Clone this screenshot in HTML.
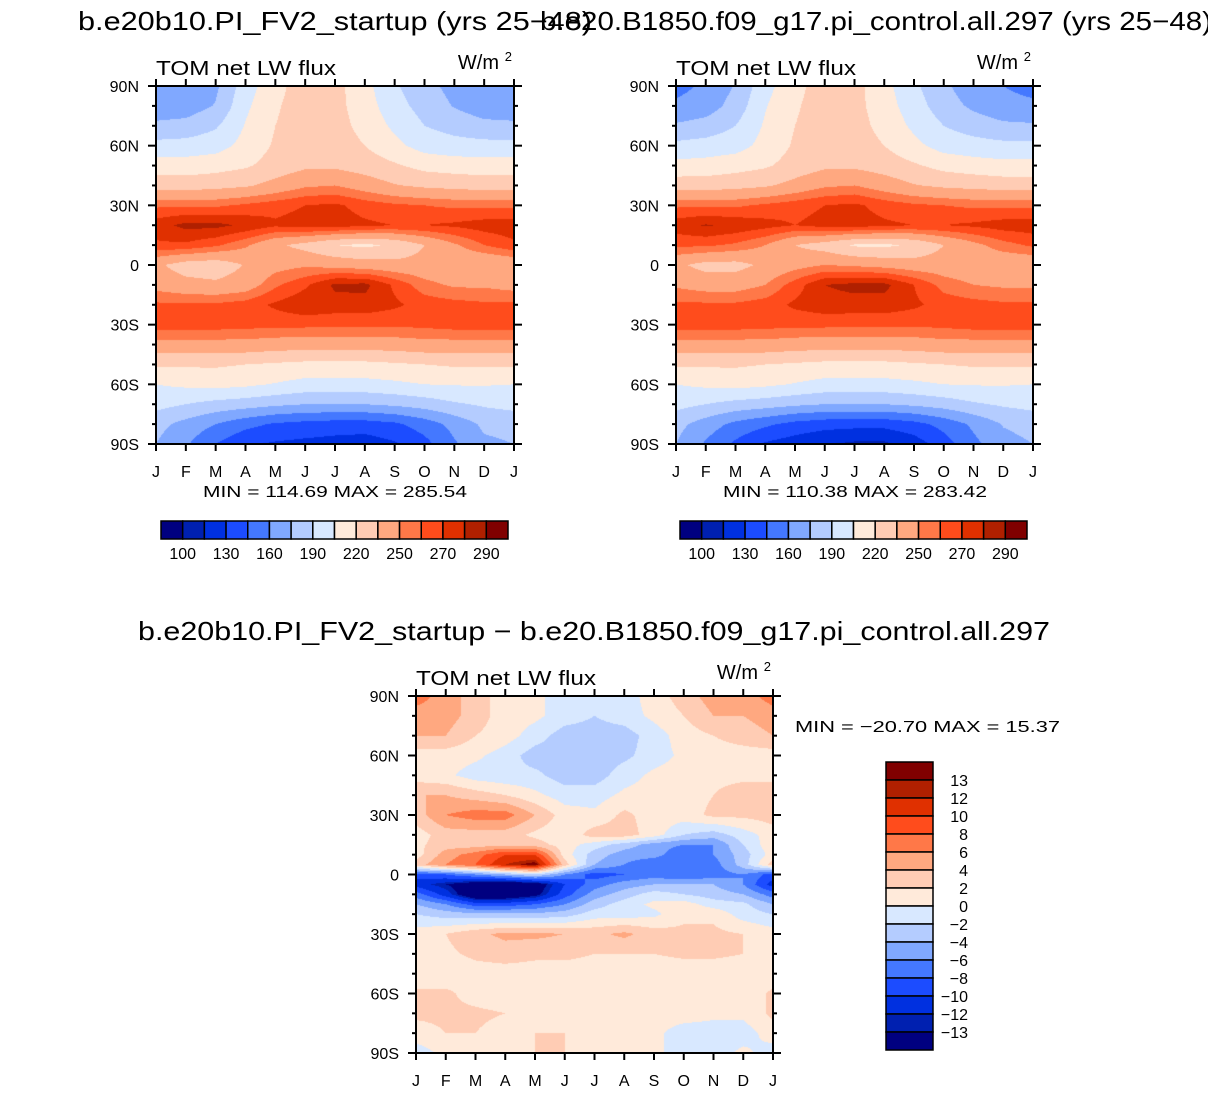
<!DOCTYPE html>
<html><head><meta charset="utf-8">
<style>
body{margin:0;background:#fff;width:1208px;height:1093px;overflow:hidden;position:relative;font-family:"Liberation Sans",sans-serif}
canvas{position:absolute}
svg{position:absolute;left:0;top:0}
</style></head>
<body>
<canvas id="c1" style="left:156px;top:86px" width="358" height="358"></canvas>
<canvas id="c2" style="left:676px;top:86px" width="357" height="358"></canvas>
<canvas id="c3" style="left:416px;top:696px" width="357" height="357"></canvas>
<svg id="s" width="1208" height="1093"></svg>
<script>
const months=["J","F","M","A","M","J","J","A","S","O","N","D","J"];
const latLabels=["90N","60N","30N","0","30S","60S","90S"];
const lats19=[90,80,70,60,50,40,30,20,10,0,-10,-20,-30,-40,-50,-60,-70,-80,-90];
const lats3=[90,80,70,60,50,40,30,20,15,10,5,0,-5,-10,-15,-20,-30,-40,-50,-60,-70,-80,-90];
const absLevels=[100,115,130,145,160,175,190,205,220,235,250,260,270,280,290];
const absLabels=["100","130","160","190","220","250","270","290"];
const diffLevels=[-13,-12,-10,-8,-6,-4,-2,0,2,4,6,8,10,12,13];
const diffLabels=["13","12","10","8","6","4","2","0","−2","−4","−6","−8","−10","−12","−13"];
const colors=["#000080","#0020B0","#0030E0","#1C4CFF","#4478FF","#80A8FF","#B4CCFF","#D8E8FF","#FFEADA","#FFCCB4","#FFA880","#FF7848","#FF4C1C","#E03000","#B02000","#800000"];
const startup=[
[165,165,172,198,215,228,225,210,192,180,170,165,165],
[166,167,176,202,218,228,225,212,196,184,174,167,166],
[178,180,188,206,220,228,226,215,202,190,184,179,178],
[195,196,199,210,222,230,228,220,209,199,196,195,195],
[212,212,214,218,226,232,232,228,222,215,213,212,212],
[228,228,230,233,240,248,250,243,236,232,230,228,228],
[258,258,258,262,266,270,272,266,262,260,258,258,258],
[276,283,283,278,272,275,275,272,270,270,272,275,276],
[268,268,262,252,238,230,220,217,222,235,248,260,268],
[238,228,226,236,245,248,245,242,240,240,238,235,238],
[245,240,238,242,258,268,282,283,268,254,248,248,245],
[262,262,262,265,272,278,276,276,272,266,264,262,262],
[265,265,265,264,263,263,262,262,262,263,265,265,265],
[245,245,245,245,243,242,242,242,243,245,245,245,245],
[222,222,222,220,218,216,216,216,218,220,222,222,222],
[205,208,210,208,204,200,200,200,202,205,206,206,205],
[195,190,185,182,178,175,175,175,178,182,188,192,195],
[180,170,160,150,143,140,138,138,142,152,165,178,180],
[175,162,145,132,128,126,124,122,128,140,158,172,175]];
const control=[
[155,163,176,200,215,228,225,210,193,178,166,160,155],
[163,167,181,204,218,228,225,212,197,182,172,165,163],
[177,181,190,207,220,228,226,215,202,190,183,178,177],
[194,196,199,210,222,230,228,220,209,199,196,194,194],
[210,211,214,218,226,232,232,228,222,215,212,210,210],
[228,228,230,233,240,248,250,243,236,232,230,228,228],
[258,258,258,262,266,270,272,266,262,260,258,258,258],
[276,281,278,274,270,274,275,272,270,270,272,275,276],
[262,262,258,250,235,228,218,217,222,235,246,256,262],
[238,230,230,238,245,250,248,245,242,242,240,238,238],
[248,244,244,250,265,280,283,283,270,256,250,248,248],
[262,262,262,265,272,276,276,276,272,266,264,262,262],
[265,265,265,264,263,263,262,262,262,263,265,265,265],
[245,245,245,245,243,242,242,242,243,245,245,245,245],
[222,222,222,220,218,216,216,216,218,220,222,222,222],
[205,208,210,208,204,200,200,200,202,205,206,206,205],
[195,190,185,182,178,175,175,175,178,182,188,192,195],
[180,168,156,148,140,136,135,135,140,150,163,176,180],
[175,158,142,128,122,116,112,112,122,138,156,170,175]];
const diff=[
[7,5,3,1,0.5,-1,-1,-1,1,3,5,5,7],
[5,5,3,1,0.5,-1,-2,-1,0.5,2,4,4,5],
[4,4,2,1,-1,-3,-3,-3,-1,1,2,3,4],
[1,1,0.5,-1,-3,-3,-3,-2.5,-1,0.5,1,1,1],
[1,0.5,-1,-1.5,-1.5,-3,-3,-1,0.5,1,1.5,1.5,1],
[4,4,3,2,0.5,-1,-1,0.5,1,1,2,3,4],
[3,6,7,7,4,1,0.5,2.5,1,1,2.5,2.5,3],
[1,3,3,3,1.5,0.5,3,3,1,-2,-3,-1,1],
[1.5,3,3,3.5,3,1,-1,-3,-5,-6,-6,-2,1.5],
[1,5,7,10,10,1,-3,-5,-5,-8,-6,-3,1],
[3,6,8,12,14,3,-4,-6,-8,-8,-7,-3,3],
[-9,-8,-6,-4,-2,-6,-9,-8,-7,-8,-7,-6,-9],
[-11,-13,-15,-16,-15,-10,-7,-5,-4,-4,-4,-6,-11],
[-7,-11,-16,-16,-14,-9,-5,-3,-1,-2,-3,-4,-7],
[-4,-6,-9,-9,-8,-6,-3,-1,0.5,1,-1,-1.5,-4],
[-2,-3,-3.5,-3.5,-3.5,-3,-1,-1,-0.5,1.5,1.5,-1,-2],
[1,2,3.5,4.5,4.5,4,3.5,4.5,3,2.5,2.5,2,1],
[1,1.5,2.5,3,2.5,2.5,2,2,2,2.5,2.5,2,1],
[0.5,0.5,1,1,1,1,1,1,0.5,0.5,0.5,0.5,0.5],
[2.5,2.5,1,0.5,0.5,0.5,0.5,0.5,0.5,0.5,0.5,0.5,2.5],
[2.5,2.5,2.5,2,2,1.5,1.5,1.5,1,1,0.5,0.5,2.5],
[1,2,2,1,2,2,2,1,0.5,-1,-1,-1,1],
[-1,0.5,1,1,2,2,1,1,0.5,-1,-1,0.5,-1]];

function idx(v,levels){let i=0;while(i<levels.length&&v>=levels[i])i++;return i;}
function hex(c){return [parseInt(c.substr(1,2),16),parseInt(c.substr(3,2),16),parseInt(c.substr(5,2),16)];}
const rgb=colors.map(hex);
function drawField(id,grid,lats,levels){
  const cv=document.getElementById(id),ctx=cv.getContext('2d');
  const W=cv.width,H=cv.height,img=ctx.createImageData(W,H);
  const nc=grid[0].length;
  for(let py=0;py<H;py++){
    const lat=90-180*(py+0.5)/H;
    let r=0;while(r<lats.length-2&&lat<lats[r+1])r++;
    const t=(lats[r]-lat)/(lats[r]-lats[r+1]);
    for(let px=0;px<W;px++){
      const fx=(px+0.5)/W*(nc-1);let c=Math.min(Math.floor(fx),nc-2);const u=fx-c;
      const a=grid[r][c]*(1-u)+grid[r][c+1]*u,b=grid[r+1][c]*(1-u)+grid[r+1][c+1]*u;
      const v=a*(1-t)+b*t;const col=rgb[idx(v,levels)];const k=(py*W+px)*4;
      img.data[k]=col[0];img.data[k+1]=col[1];img.data[k+2]=col[2];img.data[k+3]=255;
    }
  }
  ctx.putImageData(img,0,0);
}
drawField('c1',startup,lats19,absLevels);
drawField('c2',control,lats19,absLevels);
drawField('c3',diff,lats3,diffLevels);

const S=document.getElementById('s');const NS='http://www.w3.org/2000/svg';
function el(tag,attrs,parent){const e=document.createElementNS(NS,tag);for(const k in attrs)e.setAttribute(k,attrs[k]);(parent||S).appendChild(e);return e;}
function txt(s,x,y,size,anchor,len,name){const e=el('text',{x:x,y:y,'font-size':size,'text-anchor':anchor||'start','font-family':'Liberation Sans, sans-serif',fill:'#000'});
  if(len){e.setAttribute('textLength',len);e.setAttribute('lengthAdjust','spacingAndGlyphs');}
  e.textContent=s;
  
  
  return e;}
function frame(x0,y0,w,h,pname){
  const g=el('g',{});
  
  
  el('rect',{x:x0,y:y0,width:w,height:h,fill:'none',stroke:'#000','stroke-width':2},g);
  for(let i=0;i<months.length;i++){const x=x0+w*i/(months.length-1);
    el('line',{x1:x,x2:x,y1:y0+h,y2:y0+h+7,stroke:'#000','stroke-width':2},g);
    el('line',{x1:x,x2:x,y1:y0,y2:y0-7,stroke:'#000','stroke-width':2},g);
    const t=txt(months[i],x,y0+h+33,16,'middle',null,'x-tick-label');g.appendChild(t);}
  for(let j=0;j<=18;j++){const y=y0+h*j/18;const L=j%3==0?8:4;
    el('line',{x1:x0,x2:x0-L,y1:y,y2:y,stroke:'#000','stroke-width':2},g);
    el('line',{x1:x0+w,x2:x0+w+L,y1:y,y2:y,stroke:'#000','stroke-width':2},g);
    if(j%3==0){const t=txt(latLabels[j/3],x0-17,y+6,16,'end',null,'y-tick-label');g.appendChild(t);}}
  txt('TOM net LW flux',x0,y0-11,20,'start',180,pname+'-subtitle');
  txt('W/m',x0+w-15,y0-17,20,'end',null,pname+'-units');
  txt('2',x0+w-2,y0-25,13,'end',null,pname+'-units-exponent');
}
function hbar(x0,y0,w,h,pname){
  const g=el('g',{});
  
  
  const bw=w/colors.length;
  colors.forEach((c,i)=>{el('rect',{x:x0+i*bw,y:y0,width:bw,height:h,fill:c,stroke:'#000','stroke-width':1.5},g);});
  absLabels.forEach((s,k)=>{const t=txt(s,x0+bw*(1+2*k),y0+38,16,'middle',null,'colorbar-label');g.appendChild(t);});
}
txt('b.e20b10.PI_FV2_startup (yrs 25−48)',78,30,26,'start',514,'left-title');
txt('b.e20.B1850.f09_g17.pi_control.all.297 (yrs 25−48)',540,30,26,'start',672,'right-title');
frame(156,86,358,358,'startup');
frame(676,86,357,358,'control');
frame(416,696,357,357,'difference');
txt('MIN = 114.69 MAX = 285.54',335,497,16,'middle',264,'startup-min-max');
txt('MIN = 110.38 MAX = 283.42',855,497,16,'middle',264,'control-min-max');
hbar(161,521,347,18,'startup');
hbar(680,521,347,18,'control');
txt('b.e20b10.PI_FV2_startup − b.e20.B1850.f09_g17.pi_control.all.297',138,640,26,'start',912,'difference-title');
txt('MIN = −20.70 MAX =  15.37',795,732,16,'start',265,'difference-min-max');
(function(){const x0=886,y0=762,w=47,bh=18;
  const g=el('g',{});
  
  
  for(let i=0;i<colors.length;i++){el('rect',{x:x0,y:y0+i*bh,width:w,height:bh,fill:colors[colors.length-1-i],stroke:'#000','stroke-width':1.5},g);}
  diffLabels.forEach((s,k)=>{const t=txt(s,968,y0+bh*(k+1)+6,16,'end',null,'colorbar-label');g.appendChild(t);});
})();
</script>
</body></html>
